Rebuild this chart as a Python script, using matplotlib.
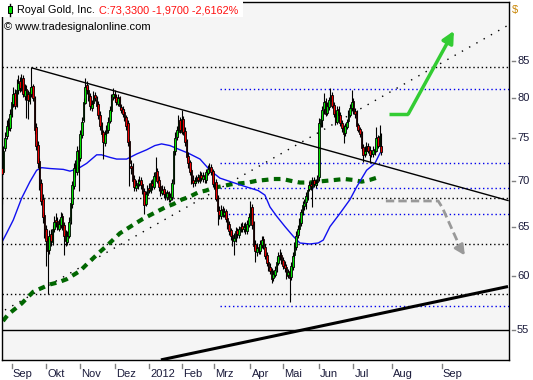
import matplotlib
matplotlib.use("Agg")
import matplotlib.pyplot as plt
import matplotlib.transforms as mtransforms
from matplotlib.patches import Rectangle
from matplotlib.ticker import NullLocator
import numpy as np

# Royal Gold daily candles, bar index 0 = 1 Sep 2011 (trading days), last bar = index 226
first_day = -6
opens = [
    71.5, 71.0, 73.8, 75.2, 76.8, 76.2,
    78.0, 79.3, 80.7, 79.2, 81.0, 82.2, 81.2, 82.6, 80.3, 81.2,
    80.5, 79.6, 80.6, 81.6, 80.0, 76.3, 74.2, 72.3, 69.8, 68.0,
    66.2, 64.8, 63.8, 62.6, 64.2, 63.4, 64.7, 65.7, 65.6, 64.8,
    65.2, 66.1, 65.2, 64.2, 63.4, 64.0, 65.6, 67.4, 69.4, 71.8,
    71.0, 73.6, 72.6, 75.4, 77.2, 79.4, 81.7, 81.1, 80.3, 78.8,
    79.4, 80.4, 79.9, 79.2, 77.9, 76.6, 75.7, 74.4, 75.6, 76.0,
    77.1, 78.4, 80.1, 80.6, 80.1, 79.3, 80.1, 78.9, 78.6, 78.2,
    77.6, 76.8, 74.6, 71.7, 71.6, 70.2, 69.2, 69.4, 69.6, 70.1,
    69.6, 68.9, 67.4, 68.4, 69.2, 68.9, 69.8, 69.3, 70.4, 71.1,
    70.1, 69.4, 68.6, 69.1, 68.7, 68.2, 68.7, 67.9, 68.2, 69.9,
    73.4, 75.1, 75.8, 77.2, 75.8, 77.4, 75.9, 74.6, 72.9, 72.1,
    71.2, 70.1, 69.7, 70.0, 70.4, 70.0, 70.7, 70.2, 70.6, 70.1,
    70.9, 71.2, 71.6, 71.1, 69.5, 69.9, 68.1, 66.8, 66.1, 66.9,
    66.2, 66.7, 65.9, 65.3, 64.6, 64.1, 63.5, 63.8, 64.6, 64.1,
    64.6, 65.1, 64.7, 65.1, 64.5, 65.2, 65.9, 67.1, 65.3, 63.2,
    62.4, 62.9, 62.5, 63.1, 63.7, 62.9, 62.1, 61.4, 60.9, 60.6,
    59.8, 60.1, 60.7, 61.3, 62.1, 62.1, 61.6, 61.1, 60.9, 60.1,
    60.5, 59.9, 60.9, 62.1, 62.9, 64.1, 64.7, 65.4, 66.6, 67.2,
    67.6, 68.2, 69.1, 69.6, 69.3, 70.1, 69.5, 69.9, 70.4, 76.7,
    77.2, 78.6, 79.6, 78.1, 78.9, 79.7, 80.4, 79.1, 78.1, 77.0,
    78.6, 77.9, 76.9, 76.3, 75.6, 76.4, 77.1, 77.9, 78.7, 79.6,
    78.4, 78.1, 76.6, 76.1, 75.6, 73.9, 73.1, 73.4, 74.1, 73.6,
    73.1, 73.1, 73.7, 73.5, 75.1, 74.0, 74.0,
]
highs = [
    72.0, 74.0, 75.8, 77.2, 77.5, 78.6,
    80.2, 81.5, 81.2, 82.5, 83.1, 82.8, 83.2, 83.0, 81.8, 81.7,
    81.0, 81.5, 84.1, 81.9, 80.3, 76.8, 74.6, 72.6, 70.2, 68.5,
    66.6, 65.2, 64.0, 64.6, 64.8, 65.2, 66.1, 66.4, 66.0, 65.8,
    66.5, 66.4, 65.5, 64.6, 64.5, 66.0, 68.0, 70.0, 72.0, 72.4,
    74.0, 74.2, 76.0, 77.6, 80.0, 82.7, 82.3, 81.6, 80.7, 79.8,
    80.9, 80.8, 80.3, 79.6, 78.3, 77.0, 76.0, 76.0, 76.6, 77.6,
    79.0, 80.5, 81.3, 81.0, 80.6, 80.6, 80.3, 79.3, 79.0, 78.6,
    77.9, 77.2, 74.9, 72.4, 72.0, 70.6, 70.1, 70.2, 70.5, 70.4,
    69.9, 69.2, 68.9, 69.5, 69.8, 70.1, 70.2, 71.0, 72.8, 71.5,
    70.5, 69.8, 69.5, 69.4, 69.0, 69.0, 68.9, 68.6, 70.2, 74.0,
    75.7, 76.5, 77.9, 77.6, 78.5, 77.7, 76.3, 74.9, 73.3, 72.4,
    71.5, 70.6, 70.4, 70.7, 70.8, 71.1, 71.0, 71.0, 70.9, 71.4,
    71.8, 72.0, 71.9, 71.4, 70.3, 70.2, 68.4, 67.2, 67.3, 67.2,
    67.0, 66.9, 66.2, 65.6, 64.9, 64.4, 64.3, 65.0, 64.9, 65.1,
    65.4, 65.5, 65.4, 65.5, 65.7, 66.4, 67.8, 67.4, 65.6, 63.6,
    63.3, 63.2, 63.6, 64.0, 64.0, 63.2, 62.4, 61.7, 61.3, 60.8,
    60.6, 61.0, 61.9, 62.4, 62.7, 62.4, 61.9, 61.5, 61.2, 60.7,
    60.8, 61.4, 62.4, 63.4, 64.5, 65.2, 65.9, 66.9, 67.8, 68.0,
    68.7, 69.4, 70.0, 70.0, 70.4, 70.4, 70.2, 70.6, 77.5, 77.9,
    79.0, 80.7, 80.0, 79.5, 80.2, 81.3, 80.8, 79.5, 78.5, 79.0,
    79.0, 78.2, 77.2, 76.6, 76.8, 77.4, 78.5, 79.2, 81.0, 80.0,
    78.8, 78.5, 76.8, 76.4, 75.9, 74.3, 74.0, 74.5, 74.4, 74.0,
    73.6, 74.0, 73.9, 76.3, 75.4, 76.6, 75.6,
]
lows = [
    67.4, 70.8, 73.5, 74.9, 75.6, 75.9,
    77.6, 78.9, 78.6, 78.9, 80.6, 80.8, 80.9, 80.1, 79.8, 77.5,
    77.3, 79.2, 80.2, 79.6, 75.5, 73.6, 71.5, 69.0, 67.3, 65.4,
    63.8, 61.0, 58.3, 62.2, 63.0, 63.1, 64.4, 65.0, 64.6, 64.5,
    64.9, 64.6, 62.1, 63.0, 63.1, 63.8, 65.3, 67.0, 69.1, 70.4,
    70.6, 68.8, 72.3, 75.0, 77.0, 79.2, 80.5, 79.6, 78.5, 78.4,
    79.1, 79.6, 78.6, 77.4, 76.0, 75.1, 72.5, 74.1, 75.2, 75.6,
    76.8, 78.1, 79.8, 79.5, 79.1, 79.0, 78.6, 78.1, 77.6, 77.1,
    76.0, 74.1, 69.4, 70.8, 69.6, 68.8, 68.9, 69.1, 69.4, 69.1,
    68.5, 66.3, 67.2, 68.1, 68.6, 68.6, 69.0, 69.1, 70.2, 69.7,
    68.9, 68.3, 68.4, 68.1, 67.9, 67.9, 67.6, 67.6, 67.9, 69.6,
    73.0, 74.8, 75.5, 75.6, 75.5, 75.4, 74.1, 72.4, 71.5, 70.6,
    69.6, 69.3, 69.4, 69.7, 69.8, 69.8, 70.0, 69.9, 69.8, 69.8,
    70.6, 70.9, 70.7, 69.3, 69.1, 67.7, 65.2, 65.8, 65.8, 66.0,
    66.0, 65.5, 64.8, 64.1, 63.6, 63.0, 62.1, 63.4, 63.8, 63.8,
    64.4, 64.4, 64.4, 64.2, 64.2, 65.0, 65.7, 64.8, 62.7, 61.4,
    62.0, 62.2, 62.2, 62.8, 62.7, 61.7, 61.0, 60.5, 60.2, 59.3,
    59.5, 59.9, 60.4, 61.1, 61.6, 61.2, 60.7, 60.4, 59.7, 59.8,
    57.5, 59.6, 60.6, 61.8, 62.6, 63.8, 64.4, 65.1, 66.2, 66.8,
    66.9, 67.9, 68.8, 69.0, 67.1, 69.3, 69.2, 69.5, 70.0, 76.3,
    76.4, 78.0, 77.7, 77.8, 78.5, 79.3, 78.7, 77.6, 76.6, 76.7,
    77.4, 76.5, 75.8, 74.4, 75.3, 76.1, 76.8, 77.6, 78.3, 78.0,
    77.5, 76.2, 75.7, 75.1, 73.5, 72.2, 72.8, 73.0, 73.2, 72.0,
    72.7, 72.8, 73.0, 73.3, 73.8, 74.0, 73.0,
]
closes = [
    70.8, 73.5, 75.0, 76.5, 76.0, 78.0,
    79.5, 80.5, 79.0, 81.0, 82.0, 81.3, 82.5, 80.5, 81.0, 80.3,
    79.8, 80.8, 81.5, 80.0, 76.0, 74.0, 72.0, 69.5, 67.8, 66.0,
    64.5, 63.5, 62.5, 64.0, 63.5, 64.8, 65.5, 65.5, 65.0, 65.3,
    66.0, 65.0, 64.0, 63.5, 64.0, 65.5, 67.5, 69.5, 71.5, 71.0,
    73.5, 72.5, 75.5, 77.0, 79.5, 81.5, 81.0, 80.2, 79.0, 79.3,
    80.3, 80.0, 79.0, 77.8, 76.5, 75.5, 74.5, 75.5, 76.0, 77.0,
    78.5, 80.0, 80.5, 80.0, 79.5, 80.0, 79.0, 78.5, 78.0, 77.5,
    76.5, 74.5, 72.0, 71.5, 70.0, 69.3, 69.5, 69.7, 70.0, 69.5,
    68.8, 67.3, 68.5, 69.0, 69.0, 69.7, 69.4, 70.5, 71.0, 70.0,
    69.3, 68.7, 69.0, 68.5, 68.3, 68.6, 68.0, 68.2, 69.8, 73.5,
    75.0, 76.0, 77.0, 76.0, 77.3, 75.8, 74.5, 72.8, 72.0, 71.0,
    70.0, 69.8, 70.0, 70.3, 70.1, 70.6, 70.3, 70.5, 70.2, 71.0,
    71.3, 71.5, 71.0, 69.6, 69.8, 68.0, 66.7, 66.2, 66.8, 66.3,
    66.6, 65.8, 65.2, 64.5, 64.0, 63.6, 63.8, 64.5, 64.2, 64.7,
    65.0, 64.8, 65.0, 64.6, 65.3, 66.0, 67.0, 65.2, 63.0, 62.5,
    62.8, 62.6, 63.2, 63.6, 63.0, 62.0, 61.3, 60.8, 60.5, 59.7,
    60.2, 60.6, 61.4, 62.0, 62.0, 61.5, 61.0, 60.8, 60.0, 60.4,
    59.8, 61.0, 62.0, 63.0, 64.0, 64.8, 65.5, 66.5, 67.3, 67.5,
    68.3, 69.0, 69.5, 69.4, 70.0, 69.6, 69.8, 70.3, 76.8, 77.3,
    78.5, 79.5, 78.0, 79.0, 79.8, 80.3, 79.0, 78.0, 77.0, 78.5,
    77.8, 76.8, 76.2, 75.5, 76.5, 77.0, 78.0, 78.8, 79.5, 78.3,
    78.0, 76.5, 76.0, 75.5, 73.8, 73.0, 73.5, 74.0, 73.5, 73.0,
    73.2, 73.6, 73.4, 75.0, 74.0, 75.3, 73.33,
]

# moving averages (bar index, price)
ma_blue_idx = [-5.9, -3.1, 1.0, 6.1, 11.2, 15.3, 18.3, 23.4, 31.6, 35.7, 40.7, 45.9, 52.0,
               55.0, 60.1, 64.2, 70.3, 76.5, 82.6, 87.6, 91.7, 96.8, 102.9, 108.0, 115.2,
               121.3, 127.4, 135.5, 143.7, 150.8, 154.9, 158.0, 162.1, 167.2, 172.2, 176.3,
               182.4, 187.5, 190.6, 194.7, 200.8, 206.9, 211.0, 217.1, 222.2, 225.3]
ma_blue_val = [63.4, 64.3, 65.7, 68.05, 69.9, 71.2, 71.5, 71.4, 71.3, 71.1, 71.4, 72.0, 73.0,
               73.0, 72.7, 72.5, 72.5, 73.1, 73.6, 74.1, 74.3, 74.1, 73.6, 73.2, 72.5,
               71.2, 70.3, 69.8, 69.3, 68.9, 68.4, 67.1, 66.1, 65.0, 64.0, 63.3,
               63.2, 63.3, 63.6, 65.0, 66.4, 67.9, 69.3, 71.2, 72.0, 73.2]
ma_green_idx = [-5.3, -2.1, 6.1, 13.2, 19.0, 23.4, 28.5, 33.6, 41.8, 46.2, 54.0, 58.1, 66.2,
                75.4, 80.1, 85.6, 94.4, 98.8, 104.0, 108.6, 114.1, 118.8, 123.3, 129.1,
                134.1, 139.2, 144.7, 149.8, 155.5, 160.0, 165.7, 170.6, 176.3, 182.0,
                186.9, 192.7, 198.2, 203.4, 208.6, 214.1, 219.1, 224.2]
ma_green_val = [55.8, 56.4, 57.4, 58.5, 58.9, 59.2, 59.4, 59.7, 60.5, 61.2, 62.4, 63.0, 64.3,
                65.3, 65.8, 66.3, 67.1, 67.4, 67.9, 68.2, 68.7, 68.9, 69.2, 69.4,
                69.6, 69.7, 69.8, 70.0, 70.1, 70.2, 70.2, 70.0, 69.8, 69.8,
                69.9, 70.0, 70.1, 70.2, 70.1, 69.9, 70.1, 70.4]

# drawing tools on the chart
black_levels = [84.1, 68.05, 63.17, 58.3]
blue_levels = [81.16, 72.0, 69.17, 66.31, 57.18]
blue_levels_from = 127.4
support_level = 55.0
resistance_line = ([12.6, 303.6], [84.0, 67.8])
dotted_uptrend = ([-4.1, 302.8], [56.8, 89.9])
long_uptrend = ([91.3, 303.6], [52.4, 59.0])
green_arrow = ([230.9, 242.6, 270.5], [77.98, 77.98, 89.2])
gray_arrow = ([228.9, 260.9, 263.5, 275.0], [67.75, 67.75, 67.0, 62.6])
gray_arrow_tip = (277.2, 62.04)

month_pos = [0, 21, 42, 63, 84, 104, 124, 146, 166, 188, 209, 232.5, 263]
month_labels = ['Sep', 'Okt', 'Nov', 'Dez', '2012', 'Feb', 'Mrz', 'Apr', 'Mai',
                'Jun', 'Jul', 'Aug', 'Sep']
price_ticks = [55, 60, 65, 70, 75, 80, 85]

plt.rcParams['font.family'] = ['Liberation Sans', 'DejaVu Sans']

W, H = 533, 380
fig = plt.figure(figsize=(W / 100, H / 100), dpi=100)
fig.patch.set_facecolor('white')
ax = fig.add_axes([2 / W, 20 / H, 507 / W, 358 / H])
ax.set_facecolor('#f5f5f5')
ax.set_yscale('log')
ax.set_xlim(-5.9, 304.2)
ax.set_ylim(52.39, 93.46)
ax.yaxis.set_minor_locator(NullLocator())
ax.set_xticks([])
ax.set_yticks([])
for s in ax.spines.values():
    s.set_color('black')
    s.set_linewidth(1)

days = np.arange(first_day, first_day + len(closes))
o = np.array(opens)
h = np.array(highs)
l = np.array(lows)
c = np.array(closes)

# horizontal levels
for lev in black_levels:
    ax.axhline(lev, color='black', lw=1, ls=(0, (1, 2)), zorder=1)
for lev in blue_levels:
    ax.plot([blue_levels_from, 310], [lev, lev], color='#0000ee', lw=1, ls=(0, (1, 2)), zorder=1)
ax.axhline(support_level, color='black', lw=1, zorder=1)

# trend lines
ax.plot(*dotted_uptrend, color='black', lw=1, ls=(0, (1, 5)), zorder=1)
ax.plot(*long_uptrend, color='black', lw=2.2, zorder=1, solid_capstyle='butt')

# moving averages
ax.plot(ma_green_idx, ma_green_val, color='#006600', lw=3, ls=(0, (1.6, 1.3)), zorder=2)
ax.plot(ma_blue_idx, ma_blue_val, color='#1010f0', lw=1, zorder=2)

# candles
up = c >= o
ax.vlines(days, np.minimum(l, np.minimum(o, c)), np.maximum(h, np.maximum(o, c)),
          color='black', lw=0.8, zorder=3)
body_lo = np.minimum(o, c)
body_h = np.maximum(np.abs(c - o), 0.05)
ax.bar(days, body_h, bottom=body_lo, width=1.0,
       color=np.where(up, '#00e000', '#e80000'), edgecolor='black', linewidth=0.6, zorder=4)

ax.plot(*resistance_line, color='black', lw=1, zorder=5)

# arrows
ax.plot(green_arrow[0][:2], green_arrow[1][:2], color='#33cc33', lw=2.5, zorder=5,
        solid_capstyle='butt')
ax.annotate('', xy=(green_arrow[0][2], green_arrow[1][2]),
            xytext=(green_arrow[0][1], green_arrow[1][1]),
            arrowprops=dict(arrowstyle='-|>,head_length=0.7,head_width=0.35',
                            color='#33cc33', lw=2.5, shrinkA=0, shrinkB=0), zorder=5)
ax.plot(gray_arrow[0], gray_arrow[1], color='#999999', lw=2, ls=(0, (3, 1.5)), zorder=5)
ax.annotate('', xy=gray_arrow_tip, xytext=(gray_arrow[0][-1], gray_arrow[1][-1]),
            arrowprops=dict(arrowstyle='-|>,head_length=0.6,head_width=0.3',
                            color='#999999', lw=2, shrinkA=0, shrinkB=0), zorder=5)

# price axis on the right
ytrans = mtransforms.blended_transform_factory(ax.transAxes, ax.transData)
for p in price_ticks:
    ax.plot([1 + 3 / 507, 1 + 6 / 507], [p, p], color='#808080', lw=1,
            transform=ytrans, clip_on=False)
    ax.text(1 + 8 / 507, p, str(p), transform=ytrans, fontsize=8, color='#1a1a3a',
            ha='left', va='center')
fig.text(515 / W, 1 - 10 / H, '$', fontsize=8, color='#c88400', ha='center', va='center')

# time axis
xtrans = mtransforms.blended_transform_factory(ax.transData, ax.transAxes)
for pos, lab in zip(month_pos, month_labels):
    ax.plot([pos, pos], [-4 / 358, -8 / 358], color='#808080', lw=1,
            transform=xtrans, clip_on=False)
    ax.text(pos + 0.7, -16.7 / 358, lab, transform=xtrans, fontsize=8, color='#1a1a3a',
            ha='left', va='baseline')

# header
fig.patches.append(Rectangle((0, 1 - 17 / H), 243 / W, 17 / H, transform=fig.transFigure,
                             facecolor='white', edgecolor='none', zorder=5))
fig.lines.append(plt.Line2D([10 / W, 10 / W], [1 - 3.5 / H, 1 - 16 / H],
                            transform=fig.transFigure, color='black', lw=1, zorder=6))
fig.patches.append(Rectangle((8 / W, 1 - 13 / H), 4 / W, 7 / H, transform=fig.transFigure,
                             facecolor='#00e000', edgecolor='black', lw=0.7, zorder=7))
fig.text(17 / W, 1 - 13.3 / H, 'Royal Gold, Inc.', fontsize=7.8, color='black',
         ha='left', va='baseline', zorder=8)
fig.text(99 / W, 1 - 13.3 / H, 'C:73,3300 -1,9700 -2,6162%', fontsize=7.8, color='#ff1010',
         ha='left', va='baseline', zorder=8)
fig.text(4 / W, 1 - 29.7 / H, '\u00a9 www.tradesignalonline.com', fontsize=8, color='black',
         ha='left', va='baseline', zorder=8)

fig.savefig('out.png', dpi=100)
